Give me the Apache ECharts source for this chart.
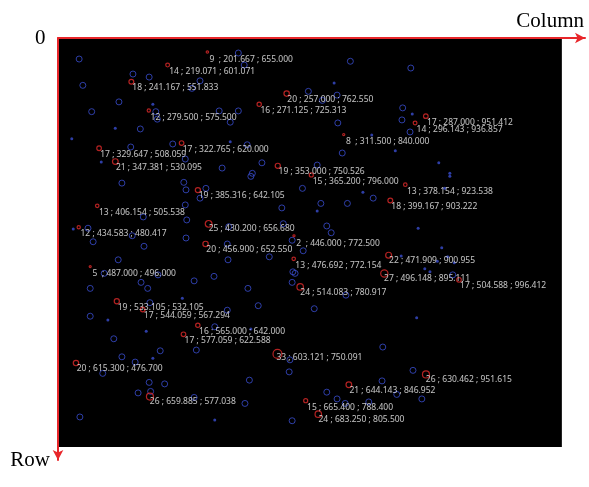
<!DOCTYPE html>
<html>
<head>
<meta charset="utf-8">
<script src="https://cdn.jsdelivr.net/npm/echarts@6/dist/echarts.min.js"></script>
<style>
  html, body { margin: 0; padding: 0; background: #fff; }
  #main { width: 589px; height: 487px; }
</style>
</head>
<body>
<div id="main"></div>
<script>
// labelled clusters: point count, mean row, mean column
var clusterCount = [9, 14, 18, 20, 16, 12, 17, 14, 8, 17, 17, 21, 19, 15, 13, 19, 18, 13, 25, 12,
  20, 2, 13, 22, 5, 27, 17, 24, 19, 17, 16, 17, 33, 20, 26, 21, 26, 15, 24];
var clusterRow = [201.667, 219.071, 241.167, 257.000, 271.125, 279.500, 287.000, 296.143, 311.500, 329.647,
  322.765, 347.381, 353.000, 365.200, 378.154, 385.316, 399.167, 406.154, 430.200, 434.583,
  456.900, 446.000, 476.692, 471.909, 487.000, 496.148, 504.588, 514.083, 533.105, 544.059,
  565.000, 577.059, 603.121, 615.300, 630.462, 644.143, 659.885, 665.400, 683.250];
var clusterCol = [655.000, 601.071, 551.833, 762.550, 725.313, 575.500, 951.412, 936.857, 840.000, 508.059,
  620.000, 530.095, 750.526, 796.000, 923.538, 642.105, 903.222, 505.538, 656.680, 480.417,
  652.550, 772.500, 772.154, 900.955, 496.000, 895.111, 996.412, 780.917, 532.105, 567.294,
  642.000, 622.588, 750.091, 476.700, 951.615, 846.952, 577.038, 788.400, 805.500];

// unlabelled detections [column, row]
var ringPoints = [
  [481, 211], [554, 231], [576, 235], [486, 246], [535, 268], [498, 281], [585, 281], [587, 291],
  [564, 304], [551, 328], [608, 324],
  [697, 203], [705, 219], [645, 240], [634, 250], [671, 280], [697, 280], [686, 295], [709, 325],
  [625, 344], [729, 349], [675, 356], [716, 363],
  [849, 214], [931, 223], [792, 254], [811, 266], [831, 259], [920, 276], [919, 292], [832, 296],
  [930, 308], [838, 336], [804, 352],
  [539, 376], [568, 421], [493, 436], [500, 454], [553, 446], [569, 460], [534, 478], [515, 496],
  [588, 498], [565, 508], [496, 516], [574, 516], [577, 535],
  [623, 375], [714, 367], [626, 385], [653, 383], [645, 396], [625, 405], [756, 409], [627, 425],
  [758, 430], [684, 434], [626, 449], [770, 452], [682, 457], [739, 474], [683, 478], [771, 494],
  [664, 500], [637, 506], [770, 508], [710, 516], [724, 539], [682, 545],
  [784, 383], [880, 396], [809, 403], [845, 403], [817, 433], [823, 442], [785, 466], [774, 496],
  [843, 525], [800, 543], [988, 498],
  [496, 553], [528, 583], [591, 599], [539, 607], [557, 614], [513, 629], [576, 641], [597, 643],
  [578, 653], [561, 655], [482, 687],
  [665, 567], [640, 598], [767, 611], [766, 627], [712, 638], [637, 661], [706, 669], [770, 692],
  [893, 594], [934, 625], [892, 639], [817, 654], [912, 657], [831, 663], [842, 669], [874, 667],
  [946, 663]
];
var dotPoints = [
  [581, 271], [530, 303], [471, 317], [511, 348], [686, 321], [827, 243], [933, 284], [878, 312],
  [910, 333], [969, 349], [984, 363], [473, 437], [621, 529], [866, 388], [804, 413], [918, 473],
  [984, 367], [977, 383], [941, 436], [973, 462], [981, 474], [967, 480], [990, 482], [950, 490],
  [957, 494], [520, 558], [572, 573], [581, 609], [714, 570], [665, 691], [939, 555]
];

// image area covered by the detections
var imageCol = [452.3, 1136.0];
var imageRow = [183.05, 727.0];

var clusterData = [];
for (var i = 0; i < clusterCount.length; i++) {
  clusterData.push([clusterCol[i], clusterRow[i], clusterCount[i]]);
}

var myChart = echarts.init(document.getElementById('main'));
var axisRed = '#e8262a';

var option = {
  backgroundColor: '#fff',
  animation: false,
  grid: { left: 58, top: 38, right: 4, bottom: 27, containLabel: false },
  xAxis: {
    type: 'value',
    position: 'top',
    z: 10,
    min: 452.3,
    max: 1167.4,
    name: 'Column',
    nameLocation: 'end',
    nameGap: 0,
    nameTextStyle: {
      fontFamily: 'Liberation Serif', fontSize: 21, color: '#000',
      align: 'right', verticalAlign: 'bottom', padding: [0, 1, 6, 0]
    },
    axisLine: {
      show: true, onZero: false,
      lineStyle: { color: axisRed, width: 2 },
      symbol: ['none', 'arrow'], symbolSize: [8, 10]
    },
    axisTick: { show: false },
    axisLabel: { show: false },
    splitLine: { show: false }
  },
  yAxis: {
    type: 'value',
    inverse: true,
    z: 10,
    min: 183.05,
    max: 744.2,
    name: 'Row',
    nameLocation: 'end',
    nameGap: 0,
    nameTextStyle: {
      fontFamily: 'Liberation Serif', fontSize: 21, color: '#000',
      align: 'right', verticalAlign: 'middle', padding: [4, 8, 0, 0]
    },
    axisLine: {
      show: true, onZero: false,
      lineStyle: { color: axisRed, width: 2 },
      symbol: ['arrow', 'none'], symbolSize: [8, 10]
    },
    axisTick: { show: false },
    axisLabel: { show: false },
    splitLine: { show: false }
  },
  graphic: [{
    type: 'text', left: 35, top: 28,
    style: { text: '0', font: '21px "Liberation Serif"', fill: '#000' }
  }],
  series: [
    {
      type: 'scatter',
      z: 1,
      data: [],
      silent: true,
      markArea: {
        silent: true,
        itemStyle: { color: '#000' },
        data: [[{ coord: [imageCol[0], imageRow[0]] }, { coord: [imageCol[1], imageRow[1]] }]]
      }
    },
    {
      type: 'scatter',
      z: 3,
      data: ringPoints,
      symbol: 'circle',
      symbolSize: 6,
      itemStyle: { color: 'rgba(0,0,0,0)', borderColor: '#3a4ed0', borderWidth: 1 }
    },
    {
      type: 'scatter',
      z: 3,
      data: dotPoints,
      symbol: 'circle',
      symbolSize: 3,
      itemStyle: { color: '#3a4ed0' }
    },
    {
      type: 'scatter',
      z: 4,
      data: clusterData,
      symbol: 'circle',
      symbolSize: function (v) { return Math.max(2, v[2] * 0.27); },
      itemStyle: { color: 'rgba(0,0,0,0)', borderColor: '#e02a2a', borderWidth: 1.2 },
      label: {
        show: true,
        position: [4, 9],
        align: 'left',
        verticalAlign: 'middle',
        color: '#f2f2f2',
        fontFamily: 'Noto Sans',
        fontSize: 8.5,
        formatter: function (p) {
          var n = p.data[2];
          return n + (n < 10 ? '  ; ' : ' ; ') + p.data[1].toFixed(3) + ' ; ' + p.data[0].toFixed(3);
        }
      }
    }
  ]
};

myChart.setOption(option);
window.addEventListener('resize', function () { myChart.resize(); });
</script>
</body>
</html>
